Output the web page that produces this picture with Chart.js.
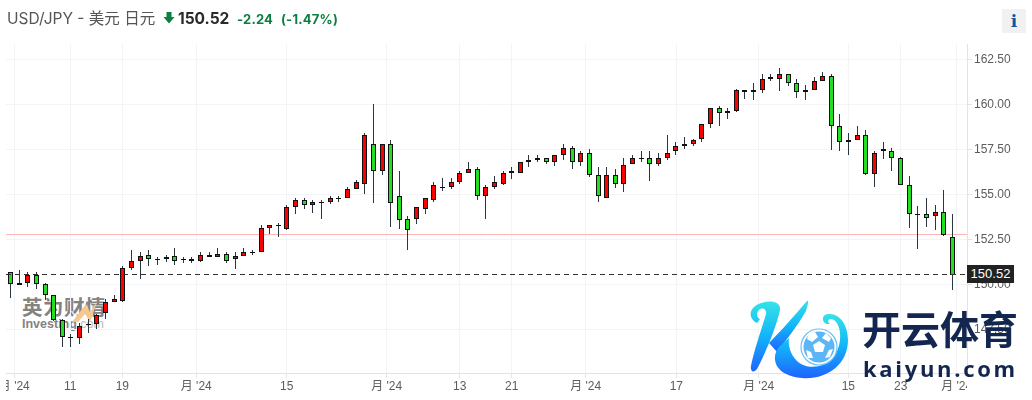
<!DOCTYPE html>
<html lang="zh">
<head>
  <meta charset="UTF-8" />
  <title>USD/JPY</title>
  <script src="https://cdn.jsdelivr.net/npm/chart.js"></script>
  <style>
    body { margin: 0; background: #fff; width: 1032px; height: 400px; overflow: hidden; position: relative; font-family: Inter, "Noto Sans CJK SC", sans-serif; }
    canvas, .abs, svg { position: absolute; }
    canvas { left: 0; top: 0; }
    .abs { white-space: nowrap; }
    #pair { left: 7px; top: 10px; font-size: 15.5px; line-height: 18px; color: #555; }
    #price { left: 178px; top: 9px; font-size: 15.5px; line-height: 20px; font-weight: 700; color: #2a2a2a; }
    #chg { left: 237px; top: 10px; font-size: 13px; line-height: 18px; font-weight: 700; color: #0b7f3f; letter-spacing: .2px; }
    #pct { left: 281px; top: 10px; font-size: 13px; line-height: 18px; font-weight: 700; color: #0b7f3f; letter-spacing: .2px; }
    #info { left: 1002px; top: 9px; width: 24px; height: 24px; background: #f1f1f1; color: #10569e; font: bold 17px/24px "DejaVu Serif", serif; text-align: center; }
    #last { left: 967px; top: 265px; width: 47px; height: 18px; background: #222; color: #fff; font: 13px/18px "Liberation Sans", sans-serif; text-align: center; }
    #wm1 { left: 22px; top: 296px; font-size: 20.5px; line-height: 24px; font-weight: 700; color: #838383; letter-spacing: .5px; }
    #wm2 { left: 22px; top: 318px; font-size: 12.5px; line-height: 12px; font-weight: 700; color: #838383; font-family: "Liberation Sans", sans-serif; }
    #wm2 i { font-style: normal; font-weight: 400; color: #bbb; }
    #brand { left: 862px; top: 307px; font-size: 39px; line-height: 46px; font-weight: 700; color: #12264f; }
    #site { left: 863px; top: 353px; font-size: 22px; line-height: 30px; font-weight: 700; color: #12264f; letter-spacing: 2.7px; font-family: "Open Sans", sans-serif; }
  </style>
</head>
<body>
  <canvas id="fx" width="1032" height="400"></canvas>

  <!-- watermark sits behind the canvas -->
  <div class="abs" id="wm1" style="z-index:-1">英为财情</div>
  <div class="abs" id="wm2" style="z-index:-1">Investing<i>.com</i></div>
  <svg width="1032" height="400" style="left:0;top:0;z-index:-1"><path d="M72,322 L86,304 L90,312 L97,302 L90,322 L85,314 L78,322 Z" fill="#f6c78f"/></svg>

  <div class="abs" id="pair">USD/JPY - 美元 日元</div>
  <svg width="12" height="12" style="left:163px;top:12px"><path d="M3.5,0 H8.5 V5 H11.5 L6,11.5 L0.5,5 H3.5 Z" fill="#0b7f3f"/></svg>
  <div class="abs" id="price">150.52</div>
  <div class="abs" id="chg">-2.24</div>
  <div class="abs" id="pct">(-1.47%)</div>
  <div class="abs" id="info">i</div>
  <div class="abs" id="last">150.52</div>

  <svg width="1032" height="400" style="left:0;top:0">
    <defs>
      <linearGradient id="kg" x1="0" y1="0" x2="0" y2="1">
        <stop offset="0" stop-color="#35e3e8"/>
        <stop offset=".5" stop-color="#12b4f8"/>
        <stop offset="1" stop-color="#1f63ff"/>
      </linearGradient>
    </defs>
    <path fill="url(#kg)" d="M757,323 C747,318 749,307 761,303 C770,300 781,301 780,310 C776,328 766,352 757,369 C754,373 750,372 751,366 C754,350 762,328 766,314 C767,309 762,307 759,310 C756,313 757,318 760,319 Z"/>
    <path fill="url(#kg)" d="M769,343 C781,331 795,315 807,301 C809,300 808,305 806,311 C797,327 786,340 777,352 Z"/>
    <path fill="url(#kg)" d="M779,347 C770,358 775,376 802,378 C826,380 848,365 848,340 C848,325 840,313 828,314 C820,315 822,325 830,324 C826,321 829,317 834,320 C842,326 843,345 833,358 C824,368 806,370 797,361 C790,354 788,345 789,338 Z"/>
    <circle cx="819" cy="347" r="18" fill="#fff" stroke="#6cc0f8" stroke-width="1.2"/>
    <circle cx="819" cy="347" r="15.5" fill="#5cb6f6"/>
    <path fill="#fff" d="M819,341 L825,345 L823,352 L815,352 L813,345 Z M809,334 L815,332 L818,337 L812,342 L807,339 Z M826,333 L831,338 L829,342 L822,338 Z M806,350 L811,352 L813,358 L808,358 Z M829,350 L833,349 L830,357 L825,358 Z"/>
  </svg>
  <div class="abs" id="brand">开云体育</div>
  <div class="abs" id="site">kaiyun.com</div>

  <script>
    const opens = [150.72,149.98,150.11,150.55,150.05,149.39,148.05,147.11,147.00,147.80,
      147.78,148.39,149.05,149.11,150.89,151.28,151.66,151.44,151.44,151.61,
      151.39,151.33,151.33,151.66,151.55,151.72,151.39,151.61,151.78,151.78,
      153.16,153.28,153.11,154.28,154.72,154.39,154.61,154.61,154.83,154.83,
      155.33,155.61,157.78,156.33,157.78,154.94,153.66,153.66,154.22,154.72,
      155.44,155.44,155.72,156.17,156.44,154.89,155.39,155.61,156.28,156.17,
      156.78,156.94,157.05,156.83,157.17,157.61,156.83,157.33,156.11,154.83,
      156.11,155.61,156.72,157.05,157.05,156.72,157.05,157.39,157.72,157.83,
      158.11,158.89,159.83,159.55,159.63,160.72,160.72,160.83,161.50,161.44,
      161.67,161.22,160.67,160.78,161.33,161.61,158.78,157.89,158.05,158.33,
      156.15,157.39,157.44,157.00,155.55,153.94,153.94,153.83,154.00,152.65];
    const closes = [150.00,150.11,150.55,150.03,149.39,148.05,147.11,147.00,147.72,147.78,
      148.31,149.05,149.17,150.89,151.28,151.61,151.44,151.43,151.55,151.33,
      151.38,151.39,151.66,151.55,151.72,151.33,151.61,151.83,151.77,153.16,
      153.28,153.27,154.28,154.72,154.39,154.61,154.60,154.83,154.82,155.33,
      155.67,158.33,156.33,157.78,154.50,153.61,153.00,154.28,154.78,155.50,
      155.43,155.72,156.17,156.39,154.89,155.39,155.67,156.22,156.17,156.78,
      156.94,157.00,156.83,157.17,157.61,156.78,157.28,156.11,154.89,156.11,
      155.61,156.66,157.00,157.04,156.72,157.00,157.33,157.72,157.83,158.05,
      158.89,159.78,159.55,159.66,160.78,160.79,160.79,161.39,161.39,161.67,
      161.22,160.67,160.78,161.28,161.61,158.78,157.89,158.00,158.33,156.15,
      157.33,157.50,157.00,155.55,153.89,153.93,153.72,154.00,152.76,150.55];
    const highs = [150.72,150.80,150.67,150.67,150.11,149.44,148.11,147.24,147.87,148.11,
      148.37,149.22,149.39,151.00,151.90,151.83,151.90,151.55,151.66,152.00,
      151.55,151.55,151.78,151.83,152.00,151.83,151.78,152.00,151.94,153.28,
      153.33,153.39,154.44,154.78,154.78,154.72,154.67,154.89,154.89,155.39,
      155.78,158.44,160.02,157.83,158.00,156.30,153.83,154.33,154.83,155.67,
      155.94,155.89,156.28,156.79,156.55,155.55,156.00,156.33,156.55,156.83,
      157.17,157.17,157.05,157.22,157.78,157.67,157.39,157.50,156.50,156.50,
      156.44,157.05,157.22,157.44,157.44,157.33,158.28,157.94,158.22,158.11,
      158.94,159.83,159.89,159.78,160.85,160.83,161.22,161.72,161.72,162.00,
      161.72,161.39,161.11,161.50,161.83,161.72,159.46,158.39,158.83,158.61,
      157.39,157.89,157.61,157.11,156.00,154.35,154.80,154.40,155.24,153.90];
    const lows = [149.26,149.98,149.87,149.74,149.15,147.98,146.50,146.50,146.70,147.31,
      147.54,148.09,149.00,149.05,150.81,150.31,151.04,151.09,151.26,151.09,
      151.20,151.20,151.26,151.50,151.50,151.22,150.87,151.61,151.66,151.78,
      152.81,152.65,153.05,153.92,154.20,153.98,153.65,154.48,154.59,154.78,
      155.28,155.02,154.54,156.09,153.20,153.09,151.92,153.37,153.92,154.61,
      155.20,155.33,155.61,156.17,154.70,153.65,155.28,155.54,155.87,156.17,
      156.54,156.83,156.72,156.59,156.94,156.44,156.59,155.98,154.59,154.83,
      155.37,155.15,156.72,156.83,155.76,156.59,156.94,157.22,157.55,157.67,
      157.94,158.72,158.83,159.22,159.60,160.33,160.26,160.66,161.28,160.76,
      161.00,160.37,160.26,160.78,161.28,157.48,157.42,157.20,158.05,156.09,
      155.42,156.98,156.31,155.55,153.15,151.98,153.20,153.00,152.70,149.70];

    // x axis works in candle numbers, month ticks fall between candles
    const xTickAt = [0.44,6.92,12.94,21.5,31.97,43.54,51.99,58.01,66.57,77.06,86.6,96.97,103.03,109.5];
    const xTickLabels = ["月 '24","11","19","月 '24","15","月 '24","13","21","月 '24","17","月 '24","15","23","月 '24"];
    const yTicks = [162.5,160,157.5,155,152.5,150,147.5];
    const prevClose = 152.78;
    const lastLine = 150.55;

    const xMin = -0.52, xMax = 110.7;
    const candleUp = '#ff0000', candleDown = '#22df22';
    const tickFont = { family: '"Liberation Sans", "Noto Sans CJK SC", sans-serif', size: 12 };

    // keep candles crisp, the way the original renders them
    const snap = {
      id: 'snap',
      afterDatasetsUpdate(chart) {
        chart.data.datasets.forEach((ds, i) => {
          chart.getDatasetMeta(i).data.forEach(el => {
            if (ds.type === 'line') { el.y = Math.floor(el.y) + 0.5; return; }
            el.x = Math.floor(el.x) + 0.5;
            el.y = Math.round(el.y);
            el.base = Math.round(el.base);
            if (el.y === el.base) el.base = el.y + 1;
          });
        });
      }
    };

    // tick labels get cut at the plot edges in the original
    const clipLabels = {
      id: 'clipLabels',
      afterDraw(chart) {
        const { ctx, chartArea: a } = chart;
        ctx.save();
        ctx.fillStyle = '#fff';
        ctx.fillRect(0, a.bottom + 2, a.left, 30);
        ctx.fillRect(a.right, a.bottom + 2, 70, 30);
        ctx.restore();
      }
    };

    new Chart(document.getElementById('fx'), {
      type: 'bar',
      data: {
        datasets: [
          {
            type: 'line', order: 4,
            data: [{ x: xMin, y: prevClose }, { x: xMax, y: prevClose }],
            borderColor: '#ffb5b5', borderWidth: 1, pointRadius: 0
          },
          {
            order: 3, grouped: false, barThickness: 1, inflateAmount: 0,
            data: highs.map((h, i) => ({ x: i, y: [lows[i], h] })),
            backgroundColor: '#2c3640'
          },
          {
            order: 2, grouped: false, barThickness: 5, inflateAmount: 0,
            data: opens.map((o, i) => ({ x: i, y: [o, closes[i]] })),
            backgroundColor: closes.map((c, i) => c >= opens[i] ? candleUp : candleDown),
            borderColor: '#111', borderWidth: 1, borderSkipped: false
          },
          {
            type: 'line', order: 1,
            data: [{ x: xMin, y: lastLine }, { x: xMax, y: lastLine }],
            borderColor: '#333', borderWidth: 1, borderDash: [5, 4], pointRadius: 0
          }
        ]
      },
      options: {
        responsive: false,
        animation: false,
        events: [],
        layout: { padding: { left: 6, top: 44, right: 0, bottom: 0 } },
        plugins: { legend: { display: false }, tooltip: { enabled: false } },
        scales: {
          x: {
            type: 'linear', offset: false, min: xMin, max: xMax,
            afterBuildTicks: ax => { ax.ticks = xTickAt.map(v => ({ value: v })); },
            afterFit: ax => { ax.height = 27; ax.paddingLeft = 0; ax.paddingRight = 0; },
            grid: { offset: false, color: '#f3f4f7', tickColor: '#e3e5ec', tickLength: 5 },
            border: { color: '#e0e3eb' },
            ticks: {
              autoSkip: false, maxRotation: 0, padding: 1, color: '#5c5c5c', font: tickFont,
              callback: (v, i) => xTickLabels[i]
            }
          },
          y: {
            position: 'right', min: 145.083, max: 163.361,
            afterBuildTicks: ax => { ax.ticks = yTicks.map(v => ({ value: v })); },
            afterFit: ax => { ax.width = 65; },
            grid: { color: '#f3f4f7', tickColor: '#e0e3eb', tickLength: 5 },
            border: { color: '#e0e3eb' },
            ticks: {
              padding: 2, color: '#5c5c5c', font: tickFont,
              callback: v => v.toFixed(2)
            }
          }
        }
      },
      plugins: [snap, clipLabels]
    });
  </script>
</body>
</html>
